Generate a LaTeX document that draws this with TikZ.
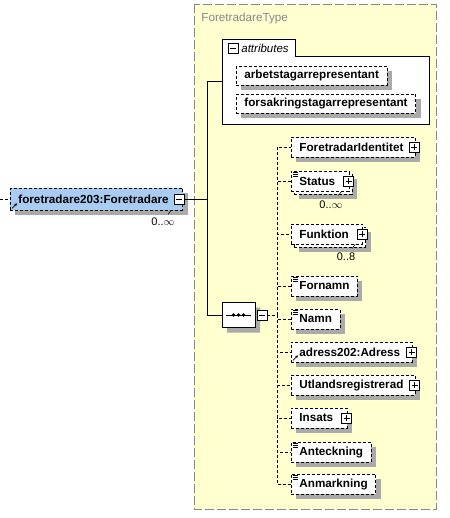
\documentclass[tikz,border=0pt]{standalone}
\usepackage{fontspec}
\setmainfont{Liberation Sans}
\usetikzlibrary{shapes.misc,arrows.meta}

\definecolor{typefill}{RGB}{255,255,208}
\definecolor{typeline}{RGB}{136,136,136}
\definecolor{reffill}{RGB}{168,204,242}
\definecolor{shadowgrey}{RGB}{170,170,170}

\tikzset{
  optional/.style={dash pattern=on 3pt off 2pt},
  elem/.style={draw, optional, fill=white, anchor=west, minimum height=20pt,
    inner xsep=8pt, inner ysep=2pt, font=\bfseries\fontsize{11.7}{14}\selectfont},
  attrib/.style={elem, minimum height=19pt},
  ghost/.style={draw=none, fill=shadowgrey},
  collapse/.style={draw, solid, fill=white, minimum size=10pt, inner sep=0pt,
    path picture={\draw ([xshift=2pt]path picture bounding box.west) -- ([xshift=-2pt]path picture bounding box.east);}},
  expand/.style={draw, solid, fill=white, minimum size=10pt, inner sep=0pt,
    path picture={\draw ([xshift=2pt]path picture bounding box.west) -- ([xshift=-2pt]path picture bounding box.east)
      ([yshift=2pt]path picture bounding box.south) -- ([yshift=-2pt]path picture bounding box.north);}},
  occ/.style={font=\fontsize{11}{13}\selectfont, inner sep=0pt},
  typename/.style={text=typeline, font=\fontsize{11.7}{14}\selectfont, inner sep=0pt, anchor=west},
  attrlabel/.style={font=\itshape\fontsize{11.5}{14}\selectfont, inner sep=0pt, anchor=west},
  seqbox/.style={draw, solid, fill=white, chamfered rectangle, chamfered rectangle xsep=7pt,
    chamfered rectangle ysep=7pt, minimum width=33pt, minimum height=25pt, inner sep=0pt}
}

% room for the expand box at the right end of a label
\newcommand{\kidgap}[1][8pt]{\hspace{#1}\null}
% box with a grey shadow: [style]{name}{x}{y}{text}
\newcommand{\elembox}[5][elem]{%
  \node[#1, ghost] at (#3+5,#4+5) {\phantom{#5}};
  \node[#1] (#2) at (#3,#4) {#5};}
% repeated element: shadow, back frame, front box
\newcommand{\multibox}[4]{%
  \node[elem, ghost] at (#2+8,#3+8) {\phantom{#4}};
  \node[elem] at (#2+3,#3+3) {\phantom{#4}};
  \node[elem] (#1) at (#2,#3) {#4};}
% small icons on element boxes
\newcommand{\txticon}[1]{\draw[solid, line width=0.6pt] ([shift={(2,2)}]#1.north west) -- ++(5,0)
  ++(-5,1.8) -- ++(5,0) ++(-5,1.8) -- ++(5,0);}
\newcommand{\reficon}[1]{\draw[solid, line width=0.8pt, -{Stealth[length=3pt,width=3pt]}]
  ([shift={(2,-2)}]#1.south west) -- ++(5,-5);}

\begin{document}
\begin{tikzpicture}[x=1pt, y=-1pt, line width=0.8pt]
    \useasboundingbox (0,0) rectangle (449,518);

    % complex type frame
    \draw[typeline, fill=typefill, dash pattern=on 9pt off 3pt] (194,4) rectangle (436,509);
    \node[typename] (tname) at (201,18) {ForetradareType};

    % attributes
    \draw[fill=white] (222,124) -- (222,39) -- (295,39) -- (295,56) -- (429,56) -- (429,124) -- cycle;
    \node[collapse] (attrminus) at (233,48) {};
    \node[attrlabel] (attrname) at (241,48) {attributes};
    \elembox[attrib]{arb}{236}{75.5}{arbetstagarrepresentant}
    \elembox[attrib]{fors}{236}{103.5}{forsakringstagarrepresentant}
    \coordinate (attrin) at (222,81);

    % main element
    \coordinate (in) at (0,199);
    \elembox[elem, fill=reffill, minimum height=22pt]{main}{10}{199}{foretradare203:Foretradare\kidgap[6pt]}
    \node[collapse] (mainminus) at ([xshift=-4pt]main.east) {};
    \reficon{main}
    \node[occ] (mainocc) at (163,222) {0..$\infty$};
    \draw[solid, line width=0.6pt] ([xshift=-12pt]main.south east) -- ++(-3,4);
    \draw[optional] (in) -- (main.west);

    % sequence
    \node[seqbox, ghost] at (243.5,320) {};
    \node[seqbox] (seq) at (238.5,315) {};
    \draw ([xshift=4pt]seq.west) -- ([xshift=-4pt]seq.east);
    \foreach \dx in {-5,0,5} {
        \fill ([xshift=\dx pt]seq.center) circle (1.9);
    }
    \node[collapse] (seqminus) at (262,315) {};
    \coordinate (split) at (207,199);
    \coordinate (bus) at (277,315);
    \draw (mainminus.east) -- (split) |- (attrin);
    \draw (split) |- (seq.west);

    % children
    \elembox{fid}{291}{147}{ForetradarIdentitet\kidgap[4pt]}
    \node[expand] at ([xshift=-1.5pt]fid.east) {};

    \multibox{st}{291}{181}{Status\kidgap[6pt]}
    \node[expand] at ([xshift=-1pt]st.east) {};
    \txticon{st}
    \node[occ] (stocc) at (331,205) {0..$\infty$};
    \draw[solid, line width=0.6pt] ([xshift=-8pt]st.south east) -- ++(-3,4);

    \multibox{fu}{291}{234}{Funktion\kidgap[6pt]}
    \node[expand] at ([xshift=-1pt]fu.east) {};
    \node[occ] (fuocc) at (346,257) {0..8};
    \draw[solid, line width=0.6pt] ([xshift=-8pt]fu.south east) -- ++(-3,4);

    \elembox{fn}{291}{286}{Fornamn}
    \txticon{fn}
    \elembox{na}{291}{319}{Namn}
    \txticon{na}

    \elembox{adr}{291}{352}{adress202:Adress\kidgap[4pt]}
    \node[expand] at ([xshift=-1pt]adr.east) {};
    \reficon{adr}

    \elembox{utl}{291}{385}{Utlandsregistrerad\kidgap[4pt]}
    \node[expand] at ([xshift=-1pt]utl.east) {};

    \elembox{ins}{291}{418}{Insats\kidgap[6pt]}
    \node[expand] at ([xshift=-1pt]ins.east) {};

    \elembox{ant}{291}{452}{Anteckning}
    \txticon{ant}
    \elembox{anm}{291}{484}{Anmarkning}
    \txticon{anm}

    % connectors
    \foreach \c in {fid,st,fu,fn,na,adr,utl,ins,ant,anm} {
        \draw[optional] (seqminus.east) -- (bus) |- (\c.west);
    }
\end{tikzpicture}
\end{document}
